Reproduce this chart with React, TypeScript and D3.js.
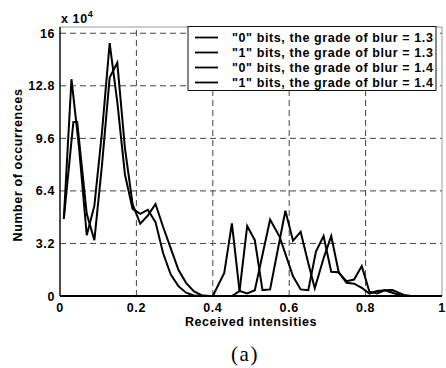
import React from "react";
import * as d3 from "d3";

// "0" bits, blur 1.3
const zeroX13 = [0.01, 0.03, 0.05, 0.07, 0.09, 0.11, 0.13, 0.15, 0.17, 0.19, 0.21, 0.23, 0.25, 0.27, 0.29, 0.31, 0.33, 0.35, 0.37, 1.0];
const zeroY13 = [4.7, 13.2, 9.0, 3.7, 5.5, 10.0, 15.4, 11.8, 7.4, 5.3, 5.0, 5.25, 4.5, 2.6, 1.3, 0.6, 0.2, 0.03, 0, 0];
// "1" bits, blur 1.3
const oneX13 = [0.0, 0.40, 0.43, 0.45, 0.47, 0.49, 0.51, 0.55, 0.575, 0.61, 0.63, 0.65, 0.67, 0.69, 0.71, 0.73, 0.75, 0.77, 0.79, 0.81, 0.83, 0.85, 0.87, 0.89, 0.91, 1.0];
const oneY13 = [0, 0, 1.4, 4.42, 0.3, 0.15, 0.35, 4.66, 3.6, 1.2, 0.4, 0.35, 2.7, 3.65, 1.48, 1.45, 0.8, 0.75, 0.5, 0.15, 0.3, 0.35, 0.2, 0.05, 0, 0];
// "0" bits, blur 1.4
const zeroX14 = [0.01, 0.035, 0.045, 0.07, 0.09, 0.11, 0.13, 0.15, 0.17, 0.19, 0.21, 0.23, 0.25, 0.27, 0.29, 0.31, 0.33, 0.35, 0.37, 0.39, 1.0];
const zeroY14 = [4.7, 10.6, 10.6, 5.0, 3.4, 8.0, 13.3, 14.2, 9.0, 5.6, 4.4, 4.9, 5.6, 4.2, 2.9, 1.6, 0.8, 0.3, 0.05, 0, 0];
// "1" bits, blur 1.4
const oneX14 = [0.0, 0.45, 0.47, 0.49, 0.51, 0.53, 0.55, 0.59, 0.61, 0.63, 0.65, 0.667, 0.69, 0.71, 0.73, 0.75, 0.77, 0.79, 0.81, 0.83, 0.85, 0.87, 0.90, 0.92, 1.0];
const oneY14 = [0, 0, 0.3, 4.26, 3.4, 0.36, 0.4, 5.19, 3.37, 3.9, 2.0, 0.47, 2.3, 3.65, 1.4, 0.9, 1.0, 1.82, 0.26, 0.16, 0.35, 0.36, 0.06, 0, 0];

const legendLabels = [
  '"0" bits, the grade of blur = 1.3',
  '"1" bits, the grade of blur = 1.3',
  '"0" bits, the grade of blur = 1.4',
  '"1" bits, the grade of blur = 1.4',
];
const xTicks = [0, 0.2, 0.4, 0.6, 0.8, 1];
const xTickLabels = ["0", "0.2", "0.4", "0.6", "0.8", "1"];
const yTicks = [0, 3.2, 6.4, 9.6, 12.8, 16];
const yTickLabels = ["0", "3.2", "6.4", "9.6", "12.8", "16"];

const W = 446, H = 368;
const L = 60, R = 442, T = 27, B = 296;

export default function App() {
  const x = d3.scaleLinear().domain([0, 1]).range([L, R]);
  const y = d3.scaleLinear().domain([0, 16.38]).range([B, T]);
  const line = d3.line<[number, number]>().x((d) => x(d[0])).y((d) => y(d[1]));
  const series = [
    zeroX13.map((v, i) => [v, zeroY13[i]] as [number, number]),
    oneX13.map((v, i) => [v, oneY13[i]] as [number, number]),
    zeroX14.map((v, i) => [v, zeroY14[i]] as [number, number]),
    oneX14.map((v, i) => [v, oneY14[i]] as [number, number]),
  ];
  const font = "'Liberation Sans', Arial, sans-serif";
  const fs = 12.5;
  const ls = 0.6;
  return (
    <svg width={W} height={H} style={{ position: "absolute", left: 0, top: 0, background: "#fff" }}>
      <rect x={0} y={0} width={W} height={H} fill="#fff" />
      {/* grid */}
      {xTicks.slice(1, -1).map((t) => (
        <line key={"gx" + t} x1={x(t)} x2={x(t)} y1={B} y2={T} stroke="#444" strokeWidth={1} strokeDasharray="6,4" />
      ))}
      {yTicks.slice(1).map((t) => (
        <line key={"gy" + t} x1={L} x2={R} y1={y(t)} y2={y(t)} stroke="#444" strokeWidth={1} strokeDasharray="6,4" />
      ))}
      {/* box */}
      <line x1={L} x2={R} y1={T} y2={T} stroke="#999" strokeWidth={1} />
      <line x1={R} x2={R} y1={T} y2={B} stroke="#999" strokeWidth={1} />
      <line x1={L} x2={L} y1={T} y2={B} stroke="#111" strokeWidth={1.5} />
      <line x1={L} x2={R} y1={B} y2={B} stroke="#111" strokeWidth={1.5} />
      {/* curves */}
      {series.map((s, i) => (
        <path key={"s" + i} d={line(s) || ""} fill="none" stroke="#000" strokeWidth={2} strokeLinejoin="miter" />
      ))}
      {/* ticks labels */}
      {xTicks.map((t, i) => (
        <text key={"xt" + t} x={x(t)} y={312} textAnchor="middle" fontFamily={font} fontWeight="bold" fontSize={fs} letterSpacing={ls}>
          {xTickLabels[i]}
        </text>
      ))}
      {yTicks.map((t, i) => (
        <text key={"yt" + t} x={55} y={y(t) + 4.5} textAnchor="end" fontFamily={font} fontWeight="bold" fontSize={fs} letterSpacing={ls}>
          {yTickLabels[i]}
        </text>
      ))}
      <text x={61} y={23} fontFamily={font} fontWeight="bold" fontSize={fs} letterSpacing={ls}>
        x 10
        <tspan dy={-6} fontSize={9}>4</tspan>
      </text>
      <text x={(L + R) / 2} y={326} textAnchor="middle" fontFamily={font} fontWeight="bold" fontSize={fs} letterSpacing={ls}>
        Received intensities
      </text>
      <text transform={`translate(22,165) rotate(-90)`} textAnchor="middle" fontFamily={font} fontWeight="bold" fontSize={fs} letterSpacing={ls}>
        Number of occurrences
      </text>
      {/* legend */}
      <rect x={188} y={26.5} width={248} height={64} fill="#fff" stroke="#111" strokeWidth={1} />
      {legendLabels.map((lab, i) => (
        <g key={"lg" + i}>
          <line x1={195} x2={218} y1={37.5 + i * 15} y2={37.5 + i * 15} stroke="#000" strokeWidth={1.8} />
          <text x={232} y={41.8 + i * 15} fontFamily={font} fontWeight="bold" fontSize={fs} letterSpacing={ls}>
            {lab}
          </text>
        </g>
      ))}
      <text x={245} y={361} textAnchor="middle" fontFamily="'Liberation Serif', 'Times New Roman', serif" fontSize={21} letterSpacing={1.5}>
        (a)
      </text>
    </svg>
  );
}
